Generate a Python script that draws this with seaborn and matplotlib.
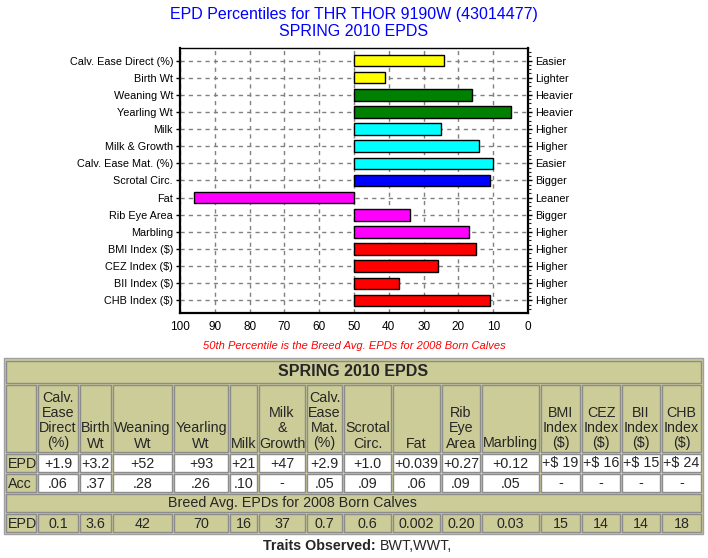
import numpy as np
import pandas as pd
import matplotlib.pyplot as plt
from matplotlib.patches import Rectangle
from matplotlib.ticker import MultipleLocator
import seaborn as sns

# Dados do gráfico de percentis
traits = ['Calv. Ease Direct (%)', 'Birth Wt', 'Weaning Wt', 'Yearling Wt', 'Milk',
          'Milk & Growth', 'Calv. Ease Mat. (%)', 'Scrotal Circ.', 'Fat', 'Rib Eye Area',
          'Marbling', 'BMI Index ($)', 'CEZ Index ($)', 'BII Index ($)', 'CHB Index ($)']
percentiles = [24, 41, 16, 5, 25, 14, 10, 11, 96, 34, 17, 15, 26, 37, 11]
direction = ['Easier', 'Lighter', 'Heavier', 'Heavier', 'Higher', 'Higher', 'Easier',
             'Bigger', 'Leaner', 'Bigger', 'Higher', 'Higher', 'Higher', 'Higher', 'Higher']
bar_colors = ['#ffff00', '#ffff00', '#008000', '#008000', '#00ffff', '#00ffff', '#00ffff',
              '#0000ff', '#ff00ff', '#ff00ff', '#ff00ff', '#ff0000', '#ff0000', '#ff0000', '#ff0000']

# Dados da tabela
table_title = 'SPRING 2010 EPDS'
col_headers = ['Calv.\nEase\nDirect\n(%)', 'Birth\nWt', 'Weaning\nWt', 'Yearling\nWt', 'Milk',
               'Milk\n&\nGrowth', 'Calv.\nEase\nMat.\n(%)', 'Scrotal\nCirc.', 'Fat',
               'Rib\nEye\nArea', 'Marbling', 'BMI\nIndex\n($)', 'CEZ\nIndex\n($)',
               'BII\nIndex\n($)', 'CHB\nIndex\n($)']
epd_values = ['+1.9', '+3.2', '+52', '+93', '+21', '+47', '+2.9', '+1.0', '+0.039', '+0.27',
              '+0.12', '+$ 19', '+$ 16', '+$ 15', '+$ 24']
acc_values = ['.06', '.37', '.28', '.26', '.10', '-', '.05', '.09', '.06', '.09', '.05',
              '-', '-', '-', '-']
breed_title = 'Breed Avg. EPDs for 2008 Born Calves'
breed_values = ['0.1', '3.6', '42', '70', '16', '37', '0.7', '0.6', '0.002', '0.20', '0.03',
                '15', '14', '14', '18']

sns.set_style('white')
plt.rcParams['font.family'] = ['Liberation Sans', 'DejaVu Sans']

W, H = 708, 558
fig = plt.figure(figsize=(W / 100, H / 100), dpi=100)

# ---- gráfico de barras ----
ax = fig.add_axes([180 / W, 1 - 313 / H, 348 / W, 265 / H])
df = pd.DataFrame({'trait': traits, 'pct': percentiles})
sns.barplot(data=df, x='pct', y='trait', hue='trait', palette=bar_colors, legend=False,
            orient='h', width=0.68, saturation=1, edgecolor='black', linewidth=1.0,
            ax=ax, zorder=3)

# barras partem da média da raça (50)
for p in ax.patches:
    idx = int(round(p.get_y() + p.get_height() / 2))
    p.set_x(50)
    p.set_width(percentiles[idx] - 50)

ax.set_xlim(100, 0)
ax.set_ylim(14.73, -0.73)
ax.xaxis.set_major_locator(MultipleLocator(10))
ax.xaxis.set_minor_locator(MultipleLocator(5))
ax.set_xlabel('')
ax.set_ylabel('')
ax.grid(True, which='major', color='#808080', linestyle=(0, (3, 3)), linewidth=1.0, zorder=0)
ax.tick_params(axis='x', which='major', direction='in', length=4, width=1, labelsize=8.5,
               pad=6, colors='black')
ax.tick_params(axis='x', which='minor', direction='in', length=2.5, width=1)
ax.tick_params(axis='y', which='major', direction='out', length=3, width=1, labelsize=7.8,
               pad=2, colors='black')
for s in ['left', 'bottom', 'right']:
    ax.spines[s].set_linewidth(1.6)
    ax.spines[s].set_color('black')
ax.spines['top'].set_linewidth(1.0)
ax.spines['top'].set_color('black')

ax2 = ax.twinx()
ax2.set_ylim(ax.get_ylim())
ax2.set_yticks(range(len(direction)))
ax2.set_yticklabels(direction)
ax2.yaxis.set_minor_locator(MultipleLocator(0.25))
ax2.tick_params(axis='y', which='major', direction='out', length=3, width=1, labelsize=7.8,
                pad=2, colors='black')
ax2.tick_params(axis='y', which='minor', direction='out', length=2, width=0.8)
for s in ax2.spines.values():
    s.set_visible(False)

fig.text(354 / W, 1 - 14.5 / H, 'EPD Percentiles for THR THOR 9190W (43014477)',
         color='#0000ff', fontsize=11.5, ha='center', va='center')
fig.text(354 / W, 1 - 32 / H, 'SPRING 2010 EPDS', color='#0000ff', fontsize=11.5,
         ha='center', va='center')
fig.text(354 / W, 1 - 346 / H, '50th Percentile is the Breed Avg. EPDs for 2008 Born Calves',
         color='#ff0000', fontsize=8, style='italic', ha='center', va='center')

# ---- tabela ----
tx = fig.add_axes([0, 0, 1, 1])
tx.set_xlim(0, W)
tx.set_ylim(H, 0)
tx.axis('off')

khaki = '#cccc99'
edge = '#8c8c8c'
col_edges = [5, 37, 79, 112, 173, 229, 258, 306, 343, 392, 441, 481, 540, 581, 621, 661, 702]
row_edges = [360, 384, 453, 473, 493, 513, 533]
fs = 10.3


def cell(x0, x1, y0, y1, color):
    tx.add_patch(Rectangle((x0 + 1, y0 + 1), x1 - x0 - 2, y1 - y0 - 2,
                           facecolor=color, edgecolor=edge, linewidth=1.0))


tx.add_patch(Rectangle((col_edges[0] - 1, row_edges[0] - 2), col_edges[-1] - col_edges[0] + 2,
                       row_edges[-1] - row_edges[0] + 3, facecolor=khaki, edgecolor='#a0a0a0',
                       linewidth=1.0))

# linha do título
cell(col_edges[0], col_edges[-1], row_edges[0], row_edges[1], khaki)
tx.text((col_edges[0] + col_edges[-1]) / 2, (row_edges[0] + row_edges[1]) / 2, table_title,
        fontsize=11.5, fontweight='bold', ha='center', va='center')

row_labels = ['', 'EPD', 'Acc', None, 'EPD']
row_data = [col_headers, epd_values, acc_values, None, breed_values]
row_colors = [khaki, 'white', 'white', None, khaki]
for r in range(5):
    y0, y1 = row_edges[r + 1], row_edges[r + 2]
    if row_data[r] is None:
        cell(col_edges[0], col_edges[-1], y0, y1, khaki)
        tx.text(292, (y0 + y1) / 2 + 0.5, breed_title, fontsize=fs, ha='center', va='center')
        continue
    cell(col_edges[0], col_edges[1], y0, y1, khaki)
    tx.text(col_edges[0] + 2.5, (y0 + y1) / 2 + 0.5, row_labels[r], fontsize=fs,
            ha='left', va='center')
    for c, val in enumerate(row_data[r]):
        x0, x1 = col_edges[c + 1], col_edges[c + 2]
        cell(x0, x1, y0, y1, row_colors[r])
        if r == 0:
            tx.text((x0 + x1) / 2, y1 - 2.5, val, fontsize=fs, ha='center', va='bottom',
                    multialignment='center', linespacing=1.12)
        else:
            tx.text((x0 + x1) / 2, (y0 + y1) / 2 + 0.5, val, fontsize=fs, ha='center',
                    va='center')

tx.text(376, 546, 'Traits Observed:', fontsize=fs, fontweight='bold', ha='right', va='center')
tx.text(380, 546, 'BWT,WWT,', fontsize=fs, ha='left', va='center')

fig.savefig('out.png', dpi=100)
